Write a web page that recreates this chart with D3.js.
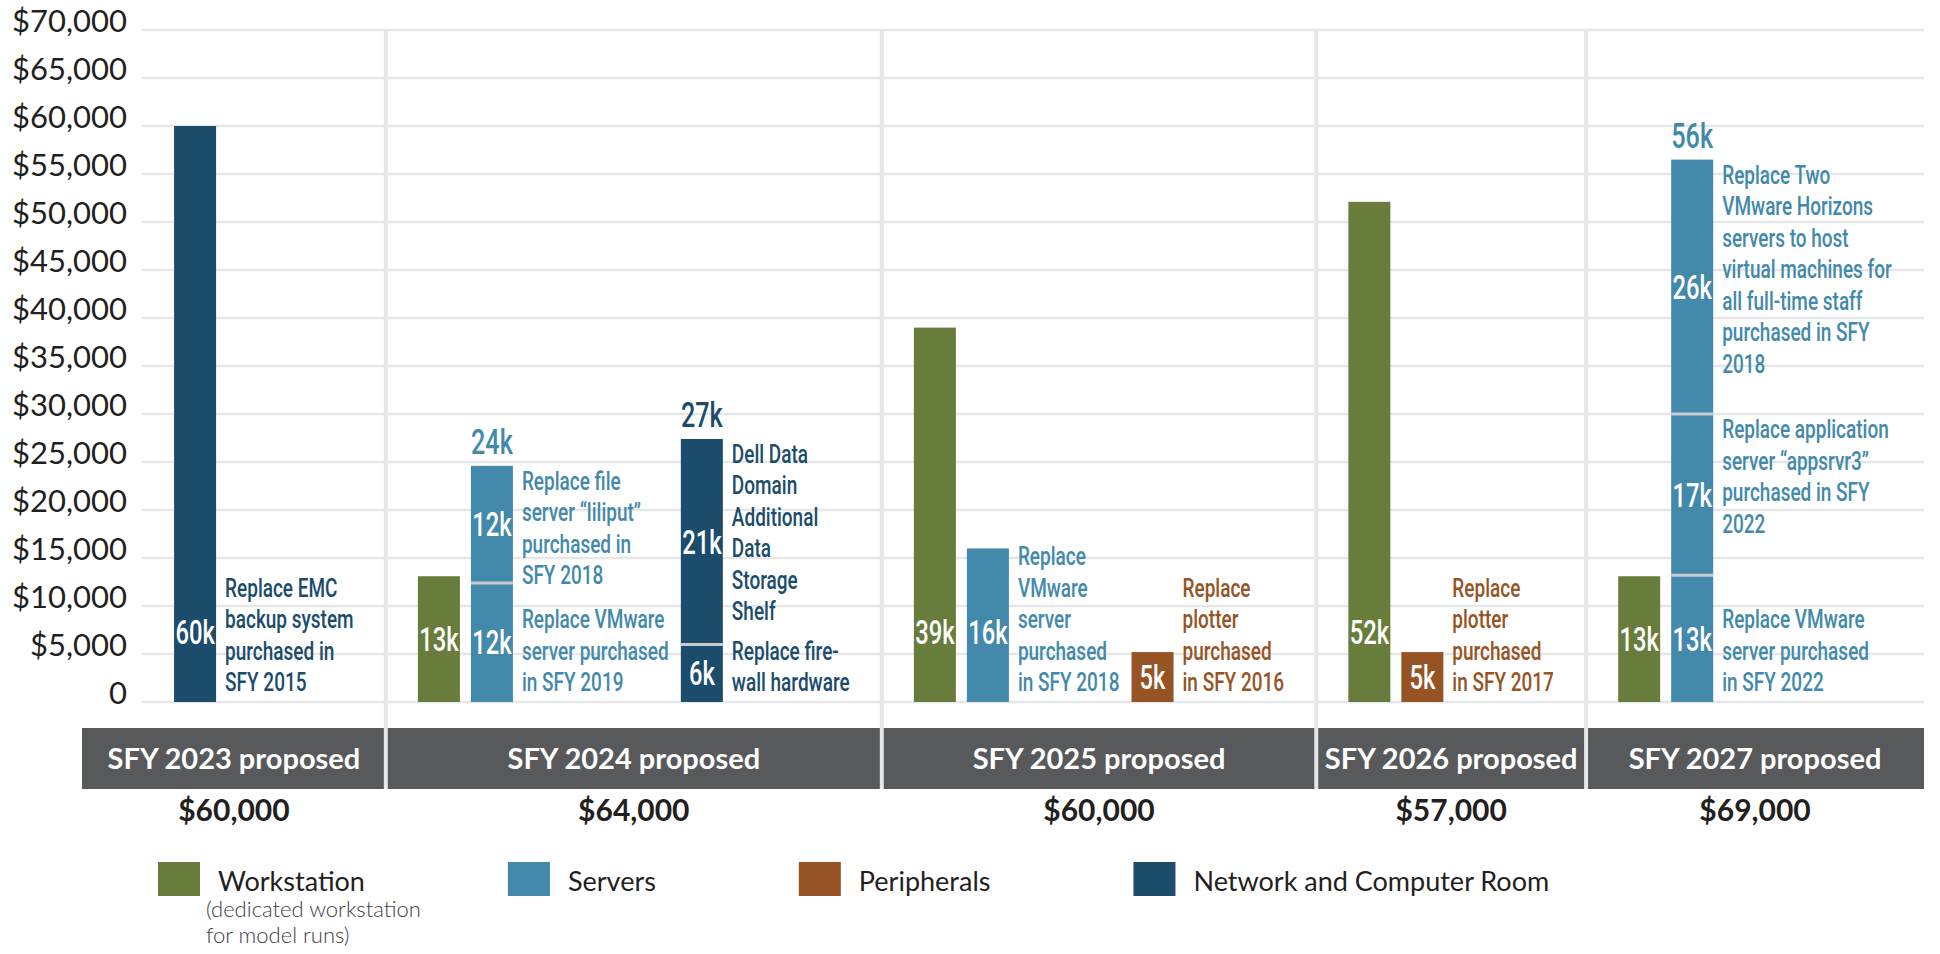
<!DOCTYPE html>
<html>
<head>
<meta charset="utf-8">
<script src="https://cdn.jsdelivr.net/npm/d3@7"></script>
<style>
  body { margin: 0; background: #fff; }
</style>
</head>
<body>
<svg id="chart" width="1940" height="954"></svg>
<script>
// ---- data ----
const years = ['SFY 2023 proposed', 'SFY 2024 proposed', 'SFY 2025 proposed', 'SFY 2026 proposed', 'SFY 2027 proposed'];
const yearTotals = [60000, 64000, 60000, 57000, 69000];
const categories = ['Workstation', 'Servers', 'Peripherals', 'Network and Computer Room'];
const categoryNotes = [['(dedicated workstation', 'for model runs)'], [], [], []];
const categoryColors = ['#687c3b', '#4389ab', '#965424', '#1b4c6c'];
const yTicks = d3.range(0, 70001, 5000);

// one entry per bar (year index, category index, label over a stacked bar)
const barYear = [0, 1, 1, 1, 2, 2, 2, 3, 3, 4, 4];
const barCategory = [3, 0, 1, 3, 0, 1, 2, 0, 2, 0, 1];
const barTotalLabel = [null, null, '24k', '27k', null, null, null, null, null, null, '56k'];

// one entry per bar segment, bottom to top
const segBar = [0, 1, 2, 2, 3, 3, 4, 5, 6, 7, 8, 9, 10, 10, 10];
const segValue = [60000, 13100, 12400, 12200, 6000, 21400, 39000, 16000, 5200, 52100, 5200, 13100, 13200, 16800, 26500];
const segLabel = ['60k', '13k', '12k', '12k', '6k', '21k', '39k', '16k', '5k', '52k', '5k', '13k', '13k', '17k', '26k'];
const segNote = [
  ['Replace EMC', 'backup system', 'purchased in', 'SFY 2015'],
  null,
  ['Replace VMware', 'server purchased', 'in SFY 2019'],
  ['Replace file', 'server \u201cliliput\u201d', 'purchased in', 'SFY 2018'],
  ['Replace fire-', 'wall hardware'],
  ['Dell Data', 'Domain', 'Additional', 'Data', 'Storage', 'Shelf'],
  null,
  ['Replace', 'VMware', 'server', 'purchased', 'in SFY 2018'],
  ['Replace', 'plotter', 'purchased', 'in SFY 2016'],
  null,
  ['Replace', 'plotter', 'purchased', 'in SFY 2017'],
  null,
  ['Replace VMware', 'server purchased', 'in SFY 2022'],
  ['Replace application', 'server \u201cappsrvr3\u201d', 'purchased in SFY', '2022'],
  ['Replace Two', 'VMware Horizons', 'servers to host', 'virtual machines for', 'all full-time staff', 'purchased in SFY', '2018']
];

// ---- layout ----
const plotLeft = 142, plotRight = 1924, plotTop = 30, plotBottom = 702;
const headerLeft = 82, headerTop = 728, headerBottom = 789;
const barW = 42, barGap = 11, noteGap = 9, afterNote = 12;
const condFont = 'Roboto', SX = 0.72, NSX = 0.76;
const noteSize = 25, lineH = 31.5;
const textDark = '#231f20', gridColor = '#e6e7e8';

const svg = d3.select('#chart');

const y = d3.scaleLinear().domain([0, 70000]).range([plotBottom, plotTop]);

// measuring condensed note text
const measure = svg.append('g').attr('visibility', 'hidden');
function noteWidth(str) {
    const t = measure.append('text')
        .attr('font-family', condFont).attr('font-weight', 500)
        .attr('font-size', noteSize).text(str);
    const w = t.node().getComputedTextLength() * NSX;
    t.remove();
    return w;
}

const bars = barYear.map((yr, i) => ({ i, yr, cat: barCategory[i], total: barTotalLabel[i], segs: [] }));
segBar.forEach((b, j) => {
    const bar = bars[b];
    const start = bar.segs.length ? bar.segs[bar.segs.length - 1].end : 0;
    bar.segs.push({ start, end: start + segValue[j], label: segLabel[j], note: segNote[j], idx: bar.segs.length, bar });
});
bars.forEach(b => {
    b.noteW = d3.max(b.segs, s => s.note ? d3.max(s.note, noteWidth) : 0);
});

const groups = years.map((name, g) => {
    const gb = bars.filter(b => b.yr === g);
    let off = 0;
    gb.forEach((b, k) => {
        if (k > 0) off += gb[k - 1].noteW ? afterNote : barGap;
        b.off = off;
        off += barW + (b.noteW ? noteGap + b.noteW : 0);
    });
    return { name, total: yearTotals[g], bars: gb, content: off };
});
const extra = (plotRight - plotLeft - d3.sum(groups, g => g.content)) / groups.length;
let cursor = 0;
groups.forEach(g => {
    g.start = cursor;
    g.end = cursor + g.content + extra;
    cursor = g.end;
    g.bars.forEach(b => { b.pos = g.start + extra / 2 + b.off; });
});
const x = d3.scaleLinear().domain([0, cursor]).range([plotLeft, plotRight]);

// ---- gridlines ----
svg.append('g').selectAll('line')
    .data(yTicks)
    .join('line')
    .attr('x1', plotLeft).attr('x2', plotRight)
    .attr('y1', d => y(d)).attr('y2', d => y(d))
    .attr('stroke', gridColor).attr('stroke-width', 2.5);

// ---- y axis labels ----
const yAxis = svg.append('g')
    .attr('transform', 'translate(127,0)')
    .call(d3.axisLeft(y).tickValues(yTicks).tickSize(0).tickPadding(0)
        .tickFormat(d => d === 0 ? '0' : d3.format('$,')(d)));
yAxis.select('.domain').remove();
yAxis.attr('font-family', 'Lato').attr('font-size', 31);
yAxis.selectAll('text')
    .attr('dy', '0.04em')
    .attr('fill', textDark);

// ---- bars ----
const segs = bars.flatMap(b => b.segs);
const barG = svg.append('g');
barG.selectAll('rect')
    .data(segs)
    .join('rect')
    .attr('x', s => x(s.bar.pos))
    .attr('width', barW)
    .attr('y', s => y(s.end))
    .attr('height', s => y(s.start) - y(s.end))
    .attr('fill', s => categoryColors[s.bar.cat]);

// dividers between stacked segments
barG.selectAll('line')
    .data(segs.filter(s => s.idx > 0))
    .join('line')
    .attr('x1', s => x(s.bar.pos)).attr('x2', s => x(s.bar.pos) + barW)
    .attr('y1', s => y(s.start)).attr('y2', s => y(s.start))
    .attr('stroke', '#c9cbcd').attr('stroke-width', 3);

function condText(sel, size, color, anchor) {
    return sel.attr('font-family', condFont)
        .attr('font-weight', 500)
        .attr('font-size', size)
        .attr('fill', color)
        .attr('text-anchor', anchor);
}

// white value labels inside segments
function segLabelY(s) {
    const mid = y((s.start + s.end) / 2);
    return s.idx === 0 ? Math.max(mid, y(0) - 70) : mid;
}
condText(svg.append('g').selectAll('text').data(segs).join('text'), 33, '#fff', 'middle')
    .attr('transform', s => `translate(${x(s.bar.pos) + barW / 2},${segLabelY(s) + 12}) scale(${SX},1)`)
    .text(s => s.label);

// totals over stacked bars
const stacked = bars.filter(b => b.total);
condText(svg.append('g').selectAll('text').data(stacked).join('text'), 35, b => categoryColors[b.cat], 'middle')
    .attr('transform', b => `translate(${x(b.pos) + barW / 2},${y(d3.max(b.segs, s => s.end)) - 12}) scale(${SX},1)`)
    .text(b => b.total);

// notes beside bars
const noted = segs.filter(s => s.note);
const noteG = svg.append('g').selectAll('g').data(noted).join('g');
noteG.each(function (s) {
    const n = s.note.length;
    const first = s.idx === 0 ? y(0) - 20 - (n - 1) * lineH : y(s.end) + 15;
    const tx = x(s.bar.pos) + barW + noteGap;
    condText(d3.select(this).selectAll('text').data(s.note).join('text'), noteSize, categoryColors[s.bar.cat], 'start')
        .attr('transform', (l, k) => `translate(${tx},${first + k * lineH + 9}) scale(${NSX},1)`)
        .text(l => l);
});

// ---- year headers ----
const headX = (g, i) => i === 0 ? headerLeft : x(g.start);
const headG = svg.append('g');
headG.selectAll('rect')
    .data(groups)
    .join('rect')
    .attr('x', headX)
    .attr('width', (g, i) => x(g.end) - headX(g, i))
    .attr('y', headerTop)
    .attr('height', headerBottom - headerTop)
    .attr('fill', '#58595b');

headG.selectAll('text.head')
    .data(groups)
    .join('text')
    .attr('class', 'head')
    .attr('x', (g, i) => (headX(g, i) + x(g.end)) / 2)
    .attr('y', 769)
    .attr('text-anchor', 'middle')
    .attr('font-family', 'Lato').attr('font-weight', 700).attr('font-size', 29)
    .attr('fill', '#fff')
    .text(g => g.name);

headG.selectAll('text.total')
    .data(groups)
    .join('text')
    .attr('class', 'total')
    .attr('x', (g, i) => (headX(g, i) + x(g.end)) / 2)
    .attr('y', 821)
    .attr('text-anchor', 'middle')
    .attr('font-family', 'Lato').attr('font-weight', 700).attr('font-size', 30)
    .attr('fill', textDark)
    .text(g => d3.format('$,')(g.total));

// separators between years
svg.append('g').selectAll('line')
    .data(groups.slice(0, -1))
    .join('line')
    .attr('x1', g => x(g.end)).attr('x2', g => x(g.end))
    .attr('y1', plotTop).attr('y2', headerBottom)
    .attr('stroke', gridColor).attr('stroke-width', 4);

// ---- legend ----
const legend = svg.append('g');
let lx = 158;
categories.forEach((c, i) => {
    const item = legend.append('g').attr('transform', `translate(${lx},862)`);
    item.append('rect').attr('width', 42).attr('height', 34).attr('fill', categoryColors[i]);
    const t = item.append('text')
        .attr('x', 60).attr('y', 29)
        .attr('font-family', 'Lato').attr('font-size', 27)
        .attr('fill', textDark)
        .text(c);
    item.selectAll('text.sub')
        .data(categoryNotes[i])
        .join('text')
        .attr('class', 'sub')
        .attr('x', 48).attr('y', (d, k) => 55 + k * 26)
        .attr('font-family', 'Lato').attr('font-weight', 300).attr('font-size', 22)
        .attr('fill', '#414042')
        .text(d => d);
    lx += 60 + t.node().getComputedTextLength() + 143;
});
</script>
</body>
</html>
